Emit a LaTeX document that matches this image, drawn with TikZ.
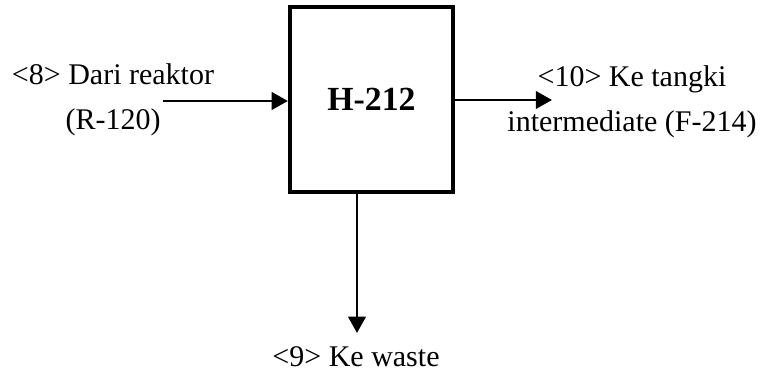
\documentclass[tikz,border=0pt]{standalone}
\usepackage{fontspec}
\setmainfont{Liberation Serif}
\usetikzlibrary{arrows.meta}

\begin{document}
\begin{tikzpicture}[x=0.4pt,y=0.4pt,>={Triangle[length=6.5pt,width=7pt]},
unit/.style={draw,line width=1.7pt,minimum width=65.2pt,minimum height=74pt,inner sep=0pt,font=\fontsize{13.5}{16}\selectfont\bfseries},
stream/.style={align=center,inner sep=0pt,font=\fontsize{12}{18}\selectfont},
flow/.style={->,line width=1.1pt}]
\useasboundingbox (0,0) rectangle (771,371);
\node[unit](H212) at (371.5,271.5){H-212};
\node[stream](s8) at (113,271){<8> Dari reaktor\\(R-120)};
\node[stream](s10) at (632,269.5){<10> Ke tangki\\intermediate (F-214)};
\node[stream,anchor=base](s9) at (356,4){<9> Ke waste};
\coordinate (in8) at (163,270);
\coordinate (out10) at (552,271);
\coordinate (out9) at (357,38);
\draw[flow](in8)--(in8 -| H212.west);
\draw[flow](out10 -| H212.east)--(out10);
\draw[flow,line width=0.9pt](out9 |- H212.south)--(out9);
\end{tikzpicture}
\end{document}
